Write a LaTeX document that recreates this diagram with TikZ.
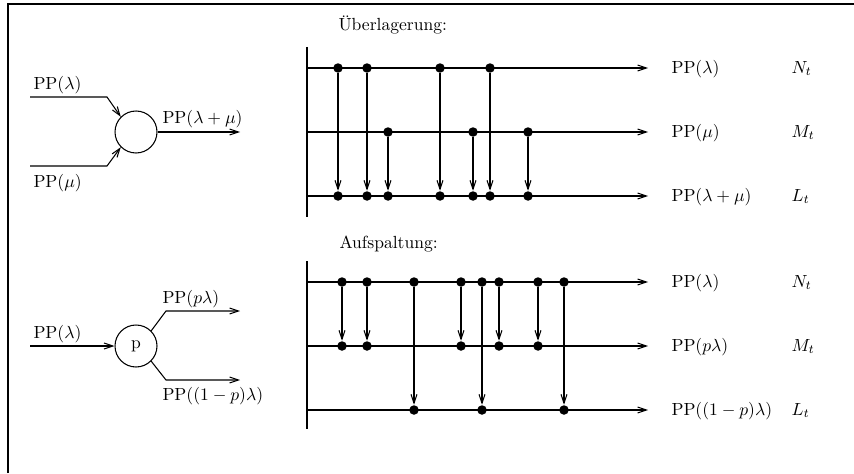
\documentclass[tikz,border=0pt]{standalone}
\usepackage{amsmath}
\usetikzlibrary{arrows.meta,positioning}
\tikzset{
  pfeil/.style={-{Straight Barb[length=5pt,width=3.4pt]}},
  punkt/.style={circle,fill,inner sep=0pt,minimum size=0.19cm},
  knoten/.style={circle,draw,inner sep=0pt,minimum size=0.84cm},
  txt/.style={anchor=base west,inner sep=0pt},
}

\begin{document}
\begin{tikzpicture}[x=0.02cm,y=-0.02cm,line width=0.6pt]
        \useasboundingbox (0,0) rectangle (854,473);
        \draw (8,473) -- (8,4) -- (854,4);

        % Ueberlagerung (links)
        \node[knoten] (sum) at (136,132) {};
        \coordinate (in1) at (30,97);  \coordinate (in1k) at (107,97);
        \coordinate (in2) at (30,166); \coordinate (in2k) at (107,166);
        \coordinate (aus) at (240,132);
        \draw[pfeil] (in1) -- (in1k) -- (sum.north west);
        \draw[pfeil] (in2) -- (in2k) -- (sum.south west);
        \draw[pfeil] (sum) -- (aus);
        \node[txt] (tin1) at (33,90) {PP$(\lambda)$};
        \node[txt] (tin2) at (33,187) {PP$(\mu)$};
        \node[txt] (taus) at (162,123) {PP$(\lambda+\mu)$};

        % Aufspaltung (links)
        \node[knoten] (split) at (136,346) {p};
        \coordinate (in3) at (30,346);
        \coordinate (o1k) at (166,311); \coordinate (o1) at (240,311);
        \coordinate (o2k) at (166,380); \coordinate (o2) at (240,380);
        \draw[pfeil] (in3) -- (split);
        \draw[pfeil] (split.north east) -- (o1k) -- (o1);
        \draw[pfeil] (split.south east) -- (o2k) -- (o2);
        \node[txt] (tin3) at (33,338) {PP$(\lambda)$};
        \node[txt] (to1) at (162,303) {PP$(p\lambda)$};
        \node[txt] (to2) at (162,400) {PP$((1-p)\lambda)$};

        % Ueberlagerung (Zeitachsen)
        \node[txt] (ueb) at (338,31) {\"Uberlagerung:};
        \coordinate (ax1o) at (307,47); \coordinate (ax1u) at (307,217);
        \draw (ax1o) -- (ax1u);
        \foreach \y/\n in {68/N,132/M,196/L} {
          \coordinate (s\n) at (307,\y); \coordinate (e\n) at (648,\y);
          \draw[pfeil] (s\n) -- (e\n);
        }
        \node[txt] (pN) at (671,73) {PP$(\lambda)$};       \node[txt] (vN) at (791,73) {$N_t$};
        \node[txt] (pM) at (671,137) {PP$(\mu)$};          \node[txt] (vM) at (791,137) {$M_t$};
        \node[txt] (pL) at (671,201) {PP$(\lambda+\mu)$};  \node[txt] (vL) at (791,201) {$L_t$};
        \foreach \x [count=\i] in {338,367,440,490} {
          \node[punkt] (n\i) at (\x,68) {}; \node[punkt] (l\i) at (\x,196) {};
          \draw[pfeil] (n\i) -- (l\i);
        }
        \foreach \x [count=\i] in {388,473,528} {
          \node[punkt] (m\i) at (\x,132) {}; \node[punkt] (k\i) at (\x,196) {};
          \draw[pfeil] (m\i) -- (k\i);
        }

        % Aufspaltung (Zeitachsen)
        \node[txt] (aufsp) at (339,248) {Aufspaltung:};
        \coordinate (ax2o) at (307,261); \coordinate (ax2u) at (307,429);
        \draw (ax2o) -- (ax2u);
        \foreach \y/\n in {282/N,346/M,410/L} {
          \coordinate (t\n) at (307,\y); \coordinate (f\n) at (648,\y);
          \draw[pfeil] (t\n) -- (f\n);
        }
        \node[txt] (qN) at (671,287) {PP$(\lambda)$};          \node[txt] (wN) at (791,287) {$N_t$};
        \node[txt] (qM) at (671,351) {PP$(p\lambda)$};         \node[txt] (wM) at (791,351) {$M_t$};
        \node[txt] (qL) at (671,415) {PP$((1-p)\lambda)$};     \node[txt] (wL) at (791,415) {$L_t$};
        \foreach \x [count=\i] in {342,367,461,499,538} {
          \node[punkt] (a\i) at (\x,282) {}; \node[punkt] (b\i) at (\x,346) {};
          \draw[pfeil] (a\i) -- (b\i);
        }
        \foreach \x [count=\i] in {414,482,564} {
          \node[punkt] (c\i) at (\x,282) {}; \node[punkt] (d\i) at (\x,410) {};
          \draw[pfeil] (c\i) -- (d\i);
        }
\end{tikzpicture}
\end{document}
